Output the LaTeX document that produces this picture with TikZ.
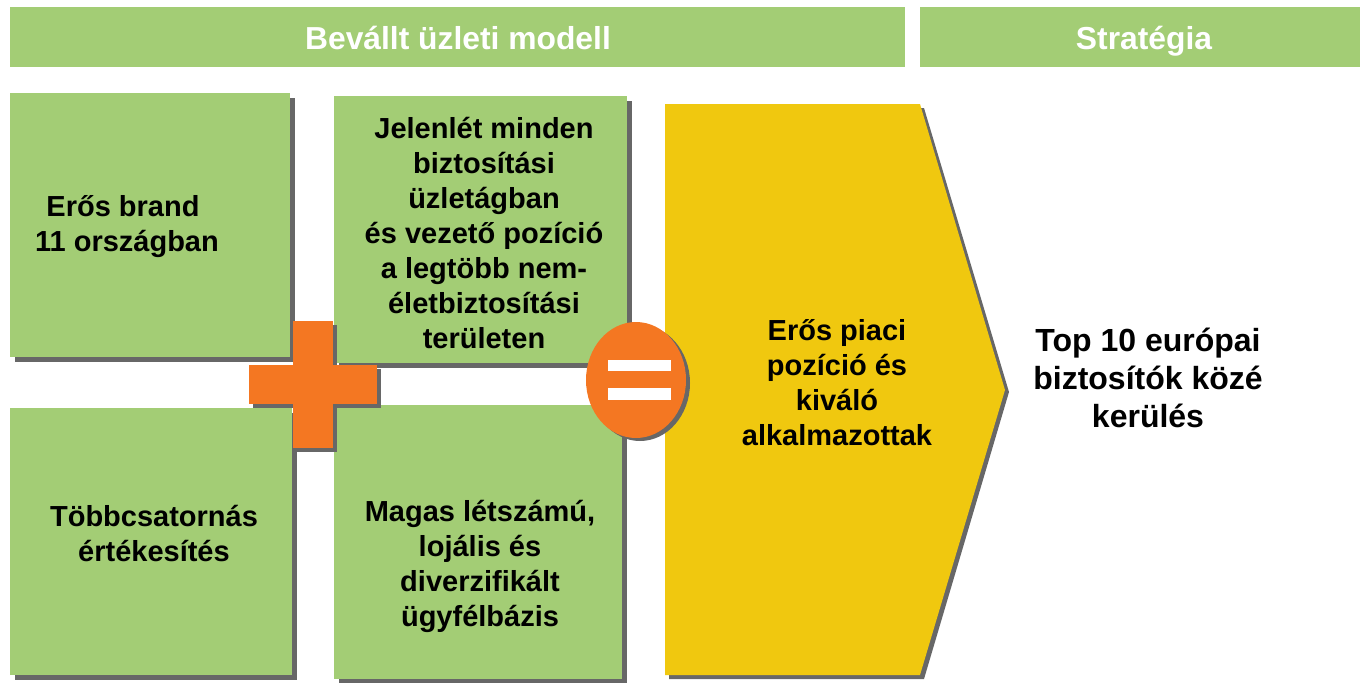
\documentclass[tikz,border=0pt]{standalone}
\usepackage{fontspec}
\setmainfont{Liberation Sans}
\definecolor{grn}{HTML}{A3CD75}
\definecolor{org}{HTML}{F47722}
\definecolor{ylw}{HTML}{F0C80F}
\definecolor{shd}{HTML}{676767}
\begin{document}
\begin{tikzpicture}[x=0.5pt,y=-0.5pt,
  txt/.style={align=center,font=\bfseries\fontsize{14.5}{17.5}\selectfont,text=black,inner sep=0pt},
  hdr/.style={font=\bfseries\fontsize{15.9}{18}\selectfont,text=white,inner sep=0pt,anchor=base}]
\useasboundingbox (0,0) rectangle (1362,682);
% header bars
\fill[grn] (10,7) rectangle (905,67);
\fill[grn] (920,7) rectangle (1360,67);
\node[hdr] (h1) at (458,49) {Bevállt üzleti modell};
\node[hdr] (h2) at (1144,49) {Stratégia};
% boxes with shadows
\foreach \a/\b/\c/\d in {10/93/290/357, 334/96/627/363, 10/408/292/675, 334/405/622/679}{
  \fill[shd] (\a+5,\b+5) rectangle (\c+5,\d+5);
  \fill[grn] (\a,\b) rectangle (\c,\d);
}
\node[txt] (b1) at (127,227) {\hspace*{-4pt}Erős brand\\11 országban};
\node[txt] (b2) at (484,233) {Jelenlét minden\\biztosítási\\üzletágban\\ és vezető pozíció\\a legtöbb nem-\\életbiztosítási\\területen};
\node[txt] (b3) at (154,533) {Többcsatornás\\értékesítés};
\node[txt] (b4) at (480,566) {Magas létszámú,\\lojális és\\diverzifikált\\ügyfélbázis};
% plus
\fill[shd] (297,325) rectangle (337,452);
\fill[shd] (253,369) rectangle (381,408);
\fill[org] (293,321) rectangle (333,448);
\fill[org] (249,365) rectangle (377,404);
% yellow arrow
\fill[shd] (669,108) -- (924,108) -- (1009,392) -- (924,679) -- (669,679) -- cycle;
\fill[ylw] (665,104) -- (920,104) -- (1005,390) -- (920,675) -- (665,675) -- cycle;
\node[txt] (y1) at (837,383) {Erős piaci\\pozíció és\\kiváló\\alkalmazottak};
% equals
\fill[shd] (640,383) ellipse [x radius=50, y radius=58];
\fill[org] (636,380) ellipse [x radius=50, y radius=58];
\fill[white] (608,360) rectangle (671,371);
\fill[white] (608,388) rectangle (671,400);
% right text
\node[txt,font=\bfseries\fontsize{16}{19}\selectfont] (r1) at (1148,378) {Top 10 európai\\biztosítók közé\\kerülés};
\end{tikzpicture}
\end{document}
